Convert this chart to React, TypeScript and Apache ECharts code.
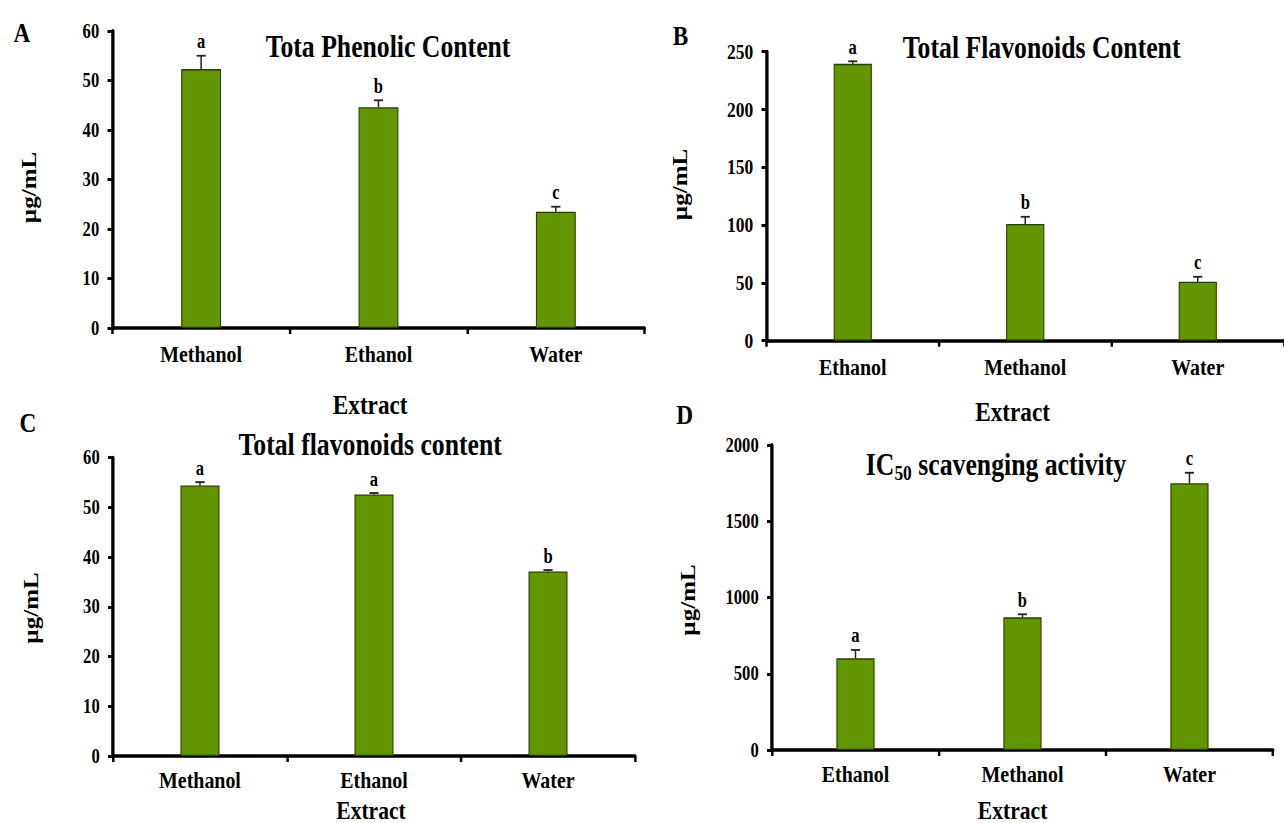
import React, { useEffect, useRef } from "react";
import * as echarts from "echarts";

// ---- data ----
const catsA = ["Methanol", "Ethanol", "Water"];
const valsA = [52.3, 44.6, 23.5];
const errA = [2.7, 1.4, 1.0];
const lettersA = ["a", "b", "c"];

const catsB = ["Ethanol", "Methanol", "Water"];
const valsB = [239.5, 100.9, 51];
const errB = [2.2, 6.3, 4.3];
const lettersB = ["a", "b", "c"];

const catsC = ["Methanol", "Ethanol", "Water"];
const valsC = [54.4, 52.6, 37.1];
const errC = [0.7, 0.3, 0.3];
const lettersC = ["a", "a", "b"];

const catsD = ["Ethanol", "Methanol", "Water"];
const valsD = [601, 870, 1749];
const errD = [55, 20, 69];
const lettersD = ["a", "b", "c"];

const yMaxes = [60, 250, 60, 2000];
const yIntervals = [10, 50, 10, 500];

// ---- style / layout ----
const S = 0.83; // horizontal condensation of the whole figure
const W = 1284 / S;
const FONT = "'Liberation Serif', 'Times New Roman', serif";
const BAR = "#639500";
const BAR_BORDER = "#2b3d00";

const grids = [
  { left: 135.5, top: 31, width: 641, height: 297 },
  { left: 923.5, top: 51.7, width: 629, height: 289 },
  { left: 136.1, top: 457.7, width: 629, height: 298.3 },
  { left: 930.1, top: 445, width: 603.6, height: 305 },
];
const barWidths = [48, 46, 47, 46];
const tickFonts = [20, 21, 20, 20];
const catMargins = [14, 14, 12, 12];

function txt(x: number, y: number, text: string, size: number, extra: any = {}) {
  return {
    type: "text",
    x,
    y,
    ...extra,
    style: {
      text,
      fontFamily: FONT,
      fontWeight: "bold",
      fontSize: size,
      fill: "#000",
      align: "center",
      verticalAlign: "middle",
      ...(extra.style || {}),
    },
  };
}

export default function App() {
  const ref = useRef<HTMLDivElement>(null);
  useEffect(() => {
    if (!ref.current) return;
    const chart = echarts.init(ref.current, null, { renderer: "svg" });
    const panels = [
      { cats: catsA, vals: valsA, errs: errA, letters: lettersA },
      { cats: catsB, vals: valsB, errs: errB, letters: lettersB },
      { cats: catsC, vals: valsC, errs: errC, letters: lettersC },
      { cats: catsD, vals: valsD, errs: errD, letters: lettersD },
    ];
    const xAxis = panels.map((p, i) => ({
      type: "category",
      gridIndex: i,
      data: p.cats,
      boundaryGap: true,
      axisLine: { show: true, lineStyle: { color: "#000", width: 3.5 } },
      axisTick: { show: true, length: 6, alignWithLabel: false, lineStyle: { color: "#000", width: 3 } },
      axisLabel: { margin: catMargins[i], fontFamily: FONT, fontWeight: "bold", fontSize: 24, lineHeight: 24, color: "#000" },
      splitLine: { show: false },
    }));
    const yAxis = panels.map((p, i) => ({
      type: "value",
      gridIndex: i,
      min: 0,
      max: yMaxes[i],
      interval: yIntervals[i],
      axisLine: { show: true, lineStyle: { color: "#000", width: 4 } },
      axisTick: { show: true, length: 6, lineStyle: { color: "#000", width: 3 } },
      axisLabel: {
        margin: 16,
        fontFamily: FONT,
        fontWeight: "bold",
        fontSize: tickFonts[i],
        color: "#000",
        formatter: (v: number) => String(v),
      },
      splitLine: { show: false },
    }));
    const series: any[] = [];
    panels.forEach((p, i) => {
      series.push({
        type: "bar",
        xAxisIndex: i,
        yAxisIndex: i,
        data: p.vals,
        barWidth: barWidths[i],
        itemStyle: { color: BAR, borderColor: BAR_BORDER, borderWidth: 1.3 },
        z: 2,
      });
      series.push({
        type: "custom",
        xAxisIndex: i,
        yAxisIndex: i,
        z: 3,
        data: p.vals.map((v, k) => [k, v, p.errs[k]]),
        encode: { x: 0, y: 1 },
        renderItem: (params: any, api: any) => {
          const k = api.value(0);
          const v = api.value(1);
          const e = api.value(2);
          const base = api.coord([k, v]);
          const top = api.coord([k, v + e]);
          const cap = 5.5;
          return {
            type: "group",
            children: [
              { type: "line", shape: { x1: base[0], y1: base[1], x2: top[0], y2: top[1] }, style: { stroke: "#222", lineWidth: 1.8 } },
              { type: "line", shape: { x1: top[0] - cap, y1: top[1], x2: top[0] + cap, y2: top[1] }, style: { stroke: "#222", lineWidth: 1.8 } },
              {
                type: "text",
                x: top[0],
                y: top[1] - 4,
                style: {
                  text: p.letters[params.dataIndex],
                  fontFamily: FONT,
                  fontWeight: "bold",
                  fontSize: 20,
                  fill: "#000",
                  align: "center",
                  verticalAlign: "bottom",
                },
              },
            ],
          };
        },
      });
    });

    const graphic: any[] = [
      txt(26.5, 33, "A", 28),
      txt(820, 36, "B", 28),
      txt(33.7, 423, "C", 28),
      txt(825, 415, "D", 28),
      txt(467.5, 47, "Tota Phenolic Content", 31),
      txt(1255, 48, "Total Flavonoids Content", 31),
      txt(446, 445, "Total flavonoids content", 31),
      txt(1200, 465, "", 31, {
        style: {
          text: "{m|IC}{s|50}{m| scavenging activity}",
          rich: {
            m: { fontFamily: FONT, fontWeight: "bold", fontSize: 31, lineHeight: 36, fill: "#000", verticalAlign: "middle" },
            s: { fontFamily: FONT, fontWeight: "bold", fontSize: 21, lineHeight: 20, fill: "#000", verticalAlign: "bottom" },
          },
        },
      }),
      txt(446, 405, "Extract", 28),
      txt(1220, 412, "Extract", 28),
      txt(447, 810, "Extract", 26, { style: { lineHeight: 26 } }),
      txt(1220, 810, "Extract", 26, { style: { lineHeight: 26 } }),
      txt(35, 187.5, "µg/mL", 25, { rotation: Math.PI / 2 }),
      txt(820, 184.5, "µg/mL", 25, { rotation: Math.PI / 2 }),
      txt(38, 608, "µg/mL", 25, { rotation: Math.PI / 2 }),
      txt(829, 600, "µg/mL", 25, { rotation: Math.PI / 2 }),
    ];

    chart.setOption({
      animation: false,
      backgroundColor: "#fff",
      grid: grids.map((g) => ({ ...g, containLabel: false })),
      xAxis,
      yAxis,
      series,
      graphic,
    });
    return () => chart.dispose();
  }, []);

  return (
    <div style={{ position: "fixed", left: 0, top: 0, width: 1284, height: 823, overflow: "hidden", background: "#fff" }}>
      <div ref={ref} style={{ width: W, height: 823, transform: `scaleX(${S})`, transformOrigin: "0 0" }} />
    </div>
  );
}
